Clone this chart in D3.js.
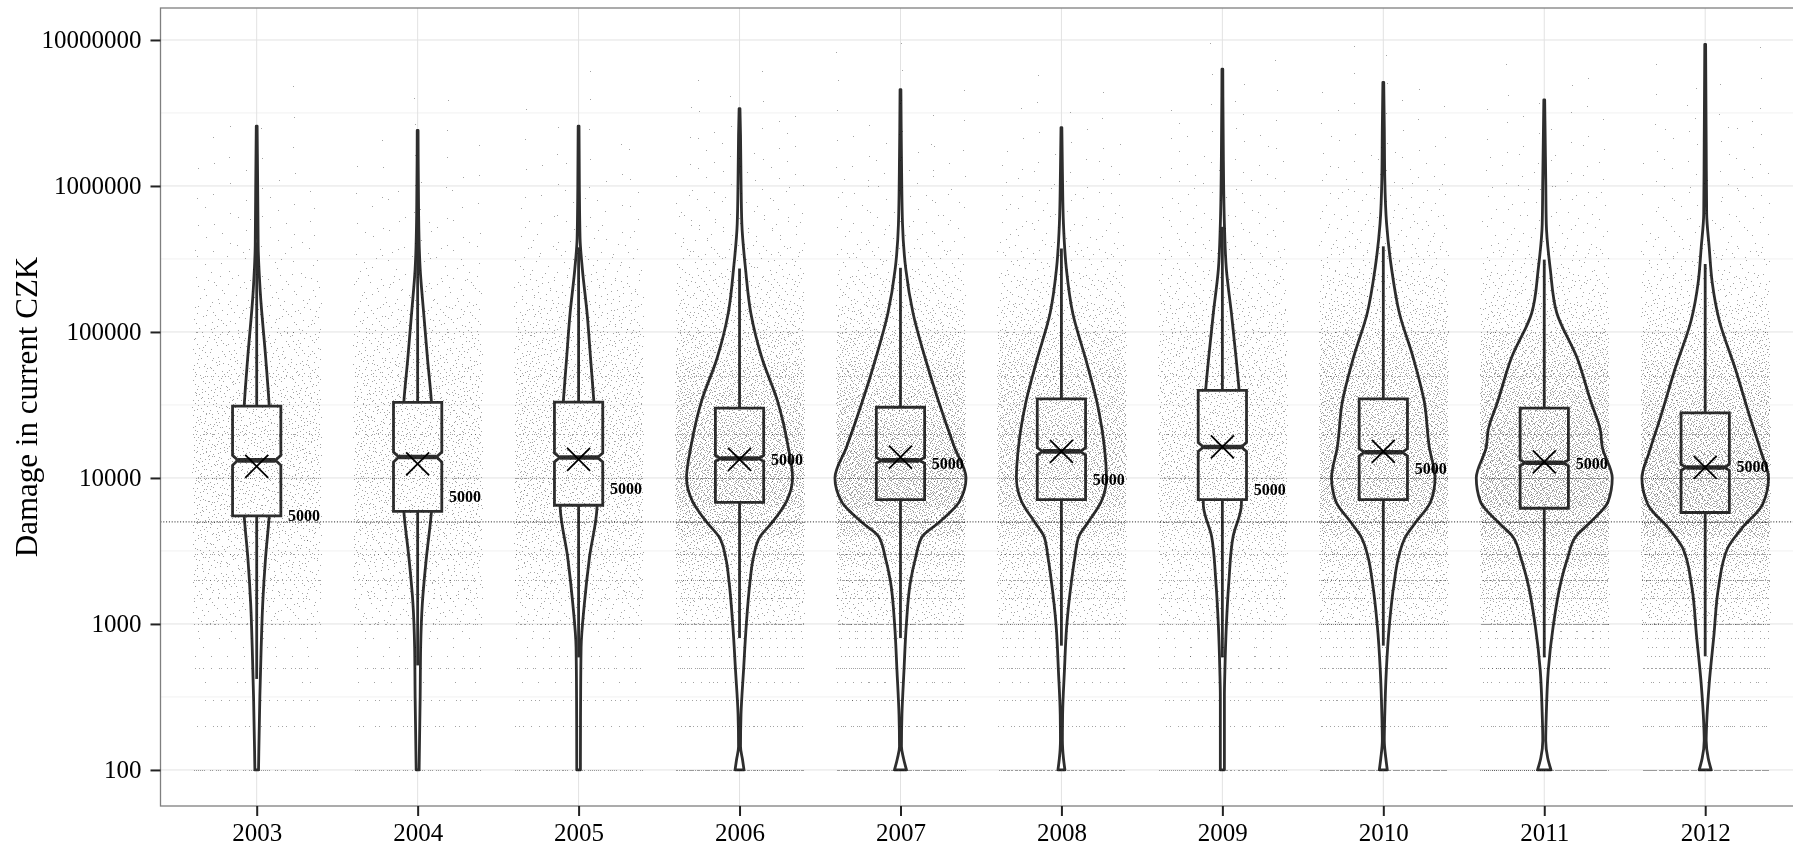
<!DOCTYPE html>
<html>
<head>
<meta charset="utf-8">
<script src="https://cdn.jsdelivr.net/npm/d3@7"></script>
<style>
body { margin: 0; background: #fff; }
#chart { position: relative; width: 1793px; height: 846px; overflow: hidden; }
#chart svg, #chart canvas { position: absolute; left: 0; top: 0; }
text { font-family: "Liberation Serif", "Times New Roman", serif; }
</style>
</head>
<body>
<div id="chart"></div>
<script>
// claims per year, damage in CZK
var years = [2003, 2004, 2005, 2006, 2007, 2008, 2009, 2010, 2011, 2012]
var q1 = [5500, 5900, 6500, 6800, 7100, 7100, 7100, 7100, 6200, 5800]
var medians = [13200, 13900, 13800, 13600, 13200, 15200, 16300, 15000, 12700, 11800]
var q3 = [31000, 32900, 33100, 30100, 30500, 34800, 39800, 34800, 30100, 27900]
var means = [12000, 12500, 13400, 13400, 13900, 15200, 16300, 15200, 12900, 11800]
var whiskerLow = [420, 520, 590, 800, 800, 710, 590, 710, 590, 600]
var whiskerHigh = [410000, 432000, 380000, 272000, 275000, 373000, 525000, 386000, 313000, 292000]
// notch half-height, in decades
var notchLog = [0.034, 0.034, 0.03, 0.02, 0.02, 0.025, 0.03, 0.025, 0.02, 0.02]
var labelAt = [5500, 7400, 8500, 13400, 12600, 9800, 8300, 11600, 12500, 12000]
var labelText = "5000"
var refLine = 5000

var yTicks = [100, 1000, 10000, 100000, 1000000, 10000000]
var yMinor = [Math.pow(10, 2.5), Math.pow(10, 3.5), Math.pow(10, 4.5), Math.pow(10, 5.5), Math.pow(10, 6.5)]

// violin outline: [log10 damage, relative density]
var violins = [
  [[2.0,.026],[2.5,.045],[2.84,.064],[3.14,.086],[3.45,.126],[3.74,.179],[4.1,.214],[4.49,.179],[4.82,.129],[5.28,.05],[5.59,.021],[6.0,.014],[6.41,.006]],
  [[2.0,.021],[2.5,.036],[2.84,.043],[3.14,.067],[3.45,.124],[3.77,.197],[4.14,.229],[4.52,.197],[4.82,.14],[5.13,.086],[5.43,.036],[5.8,.014],[6.38,.006]],
  [[2.0,.026],[2.5,.029],[2.84,.036],[3.14,.083],[3.45,.154],[3.81,.264],[4.14,.271],[4.52,.219],[4.82,.171],[5.13,.121],[5.43,.054],[5.64,.021],[6.0,.011],[6.41,.006]],
  [[2.0,.064],[2.07,.043],[2.16,.014],[2.38,.021],[2.68,.057],[2.99,.096],[3.29,.15],[3.45,.196],[3.6,.297],[3.69,.457],[3.84,.671],[4.0,.757],[4.21,.696],[4.52,.547],[4.82,.321],[5.13,.161],[5.43,.086],[5.74,.033],[6.05,.021],[6.35,.014],[6.53,.006]],
  [[2.0,.086],[2.08,.043],[2.16,.014],[2.38,.021],[2.68,.05],[2.99,.083],[3.29,.143],[3.45,.214],[3.6,.314],[3.69,.536],[3.84,.843],[4.0,.936],[4.21,.771],[4.52,.547],[4.82,.353],[5.13,.179],[5.43,.076],[5.74,.029],[6.2,.014],[6.66,.006]],
  [[2.0,.05],[2.08,.029],[2.2,.014],[2.38,.017],[2.68,.043],[2.99,.076],[3.29,.143],[3.45,.19],[3.6,.25],[3.69,.371],[3.84,.571],[4.0,.643],[4.21,.614],[4.52,.507],[4.82,.343],[5.13,.161],[5.43,.071],[5.74,.029],[6.1,.014],[6.4,.006]],
  [[2.0,.029],[2.5,.029],[2.68,.036],[2.99,.057],[3.29,.093],[3.6,.154],[3.81,.271],[4.2,.286],[4.6,.239],[4.82,.196],[5.13,.129],[5.43,.057],[5.74,.029],[6.2,.014],[6.8,.006]],
  [[2.0,.057],[2.08,.036],[2.2,.014],[2.38,.021],[2.68,.043],[2.99,.086],[3.29,.157],[3.45,.214],[3.6,.321],[3.69,.453],[3.84,.679],[4.0,.739],[4.21,.657],[4.52,.586],[4.82,.429],[5.13,.229],[5.43,.119],[5.74,.047],[6.05,.021],[6.4,.014],[6.71,.006]],
  [[2.0,.096],[2.08,.05],[2.2,.021],[2.38,.029],[2.68,.057],[2.99,.129],[3.29,.239],[3.45,.333],[3.6,.453],[3.69,.643],[3.84,.914],[4.0,.971],[4.21,.829],[4.33,.8],[4.52,.667],[4.82,.471],[5.13,.179],[5.43,.086],[5.74,.029],[6.05,.021],[6.3,.014],[6.59,.006]],
  [[2.0,.086],[2.08,.043],[2.2,.014],[2.32,.021],[2.59,.057],[2.92,.124],[3.25,.19],[3.52,.321],[3.65,.514],[3.82,.821],[4.0,.904],[4.18,.797],[4.41,.643],[4.75,.429],[5.08,.2],[5.34,.1],[5.58,.057],[5.81,.021],[6.3,.014],[6.97,.006]]
]

// jittered claims: amounts that sit on round values ...
var rowValues = [100, 200, 300, 400, 500, 600, 700, 800, 900, 1000, 1500, 2000, 3000, 5000, 10000, 20000, 50000, 100000]
var rowCounts = [
  [45,18,15,6,25,8,5,8,4,40,20,35,30,40,45,25,15,10],
  [45,18,16,6,26,8,6,8,4,42,22,38,32,42,48,26,16,10],
  [50,20,18,8,28,9,6,9,5,45,24,40,35,45,50,28,18,12],
  [90,35,32,18,58,24,18,22,16,85,45,75,65,90,100,55,35,20],
  [100,40,38,20,62,26,20,25,18,95,50,85,75,100,115,60,38,22],
  [80,30,28,14,50,20,15,18,12,75,40,65,55,75,85,48,30,18],
  [60,22,22,12,36,14,10,12,8,55,28,45,40,55,60,34,22,14],
  [100,40,38,18,62,26,20,24,17,95,50,85,75,95,110,60,38,22],
  [110,45,42,22,68,28,22,27,19,105,55,90,80,110,120,62,38,22],
  [105,42,40,20,65,27,21,26,18,100,52,88,78,105,118,60,38,22]
]
// ... and the rest, counted in bands 0.2 decades wide starting at 10^3
var bandStarts = [3.0,3.2,3.4,3.6,3.8,4.0,4.2,4.4,4.6,4.8,5.0,5.2,5.4,5.6,5.8,6.0,6.2,6.4,6.6,6.8]
var bandCounts = [
  [85,135,170,215,250,265,250,220,180,135,90,52,26,16,11,7,4,2,1,0],
  [75,125,180,230,260,280,270,250,200,155,105,60,30,17,11,7,4,2,1,0],
  [90,155,215,280,325,335,310,275,235,190,140,85,42,22,13,8,5,3,1,0],
  [170,250,380,650,900,900,790,670,500,330,200,130,70,38,25,17,11,6,3,0],
  [170,245,400,780,1100,1080,860,670,520,370,215,120,62,32,22,15,10,6,3,2],
  [165,235,330,540,770,770,710,620,515,375,205,115,62,32,21,14,8,4,2,0],
  [110,150,210,290,360,355,340,305,265,215,150,92,50,30,21,15,10,6,3,2],
  [190,265,400,660,900,860,770,710,590,460,280,170,80,48,32,20,12,7,4,2],
  [280,395,600,900,1180,1100,980,820,665,460,220,130,68,32,23,16,11,7,3,1],
  [230,350,500,920,1100,1040,870,715,550,380,220,122,64,32,21,15,10,7,4,2]
]

var width = 1793
var height = 846
var panel = {left: 160.5, top: 8, bottom: 806}

var x = d3.scalePoint().domain(years).range([256.7, 1705.2])
var step = x.step()
panel.right = x(years[years.length - 1]) + 0.6 * step

var y = d3.scaleLog()
  .domain([Math.pow(10, 1.753), Math.pow(10, 7.219)])
  .range([panel.bottom, panel.top])

var lineCol = "#2e2e2e"
var lw = 2.8
var maxHalf = 0.435 * step
var boxHalf = 0.15 * step
var notchInset = boxHalf * 0.22
var jitter = 0.4 * step

var chart = d3.select("#chart")

// ---- back layer: grid, violins, boxes
var back = chart.append("svg").attr("width", width).attr("height", height)

back.selectAll("line.minor")
  .data(yMinor)
  .enter().append("line")
  .attr("x1", panel.left).attr("x2", panel.right)
  .attr("y1", d => y(d)).attr("y2", d => y(d))
  .style("stroke", "#f4f4f4").style("stroke-width", 1.2)

back.selectAll("line.major")
  .data(yTicks)
  .enter().append("line")
  .attr("x1", panel.left).attr("x2", panel.right)
  .attr("y1", d => y(d)).attr("y2", d => y(d))
  .style("stroke", "#e2e2e2").style("stroke-width", 1)

back.selectAll("line.vgrid")
  .data(years)
  .enter().append("line")
  .attr("x1", d => x(d)).attr("x2", d => x(d))
  .attr("y1", panel.top).attr("y2", panel.bottom)
  .style("stroke", "#e2e2e2").style("stroke-width", 1)

years.forEach(function(yr, i) {
  var cx = x(yr)

  var area = d3.area()
    .curve(d3.curveMonotoneY)
    .y(d => y(Math.pow(10, d[0])))
    .x0(d => cx - d[1] * maxHalf)
    .x1(d => cx + d[1] * maxHalf)

  back.append("path")
    .attr("d", area(violins[i]))
    .style("fill", "#fff")
    .style("stroke", lineCol)
    .style("stroke-width", lw)
    .style("stroke-linejoin", "round")

  // whiskers
  back.append("line")
    .attr("x1", cx).attr("x2", cx)
    .attr("y1", y(q3[i])).attr("y2", y(whiskerHigh[i]))
    .style("stroke", lineCol).style("stroke-width", lw)
  back.append("line")
    .attr("x1", cx).attr("x2", cx)
    .attr("y1", y(q1[i])).attr("y2", y(whiskerLow[i]))
    .style("stroke", lineCol).style("stroke-width", lw)

  // notched box
  var l = cx - boxHalf, r = cx + boxHalf
  var lm = Math.log10(medians[i])
  var yTop = y(q3[i]), yBot = y(q1[i]), yMed = y(medians[i])
  var nTop = y(Math.pow(10, lm + notchLog[i]))
  var nBot = y(Math.pow(10, lm - notchLog[i]))
  var p = d3.path()
  p.moveTo(l, yTop)
  p.lineTo(r, yTop)
  p.lineTo(r, nTop)
  p.lineTo(r - notchInset, yMed)
  p.lineTo(r, nBot)
  p.lineTo(r, yBot)
  p.lineTo(l, yBot)
  p.lineTo(l, nBot)
  p.lineTo(l + notchInset, yMed)
  p.lineTo(l, nTop)
  p.closePath()
  back.append("path")
    .attr("d", p.toString())
    .style("fill", "#fff")
    .style("stroke", lineCol)
    .style("stroke-width", lw)

  back.append("line")
    .attr("x1", l + notchInset).attr("x2", r - notchInset)
    .attr("y1", yMed).attr("y2", yMed)
    .style("stroke", lineCol).style("stroke-width", 4.6)
})

// ---- middle layer: jittered claims
function halton(i, b) {
  var f = 1, r = 0
  while (i > 0) { f /= b; r += f * (i % b); i = Math.floor(i / b) }
  return r
}

var canvas = chart.append("canvas").attr("width", width).attr("height", height)
var ctx = canvas.node().getContext("2d")
ctx.fillStyle = "rgba(0,0,0,0.36)"

years.forEach(function(yr, i) {
  var cx = x(yr)
  rowValues.forEach(function(v, j) {
    var py = Math.round(y(v))
    for (var k = 0; k < rowCounts[i][j]; k++) {
      var px = cx + (halton(k + 7 + i * 3001 + j * 389, 2) * 2 - 1) * jitter
      ctx.fillRect(Math.round(px), py, 1, 1)
    }
  })
  bandStarts.forEach(function(b0, j) {
    for (var k = 0; k < bandCounts[i][j]; k++) {
      var idx = k + 1 + i * 5003 + j * 577
      var px = cx + (halton(idx, 2) * 2 - 1) * jitter
      var py = y(Math.pow(10, b0 + halton(idx, 3) * 0.2))
      ctx.fillRect(Math.round(px), Math.round(py), 1, 1)
    }
  })
})

// ---- front layer: reference line, means, labels, frame, axes
var svg = chart.append("svg").attr("width", width).attr("height", height)

svg.append("line")
  .attr("x1", panel.left).attr("x2", panel.right)
  .attr("y1", y(refLine)).attr("y2", y(refLine))
  .style("stroke", "#000").style("stroke-width", 0.9)
  .style("stroke-dasharray", "1,1.8")

var xs = 11.5
svg.selectAll("path.mean")
  .data(years)
  .enter().append("path")
  .attr("d", function(d, i) {
    var cx = x(d), cy = y(means[i])
    return "M" + (cx - xs) + "," + (cy - xs) + "L" + (cx + xs) + "," + (cy + xs) +
           "M" + (cx - xs) + "," + (cy + xs) + "L" + (cx + xs) + "," + (cy - xs)
  })
  .style("stroke", "#000").style("stroke-width", 1.8).style("fill", "none")

svg.selectAll("text.lab")
  .data(years)
  .enter().append("text")
  .attr("x", d => x(d) + 0.195 * step)
  .attr("y", (d, i) => y(labelAt[i]))
  .attr("dy", "0.34em")
  .style("font-size", "16px")
  .style("font-weight", "bold")
  .text(labelText)

svg.append("rect")
  .attr("x", panel.left).attr("y", panel.top)
  .attr("width", panel.right - panel.left)
  .attr("height", panel.bottom - panel.top)
  .style("fill", "none")
  .style("stroke", "#7f7f7f")
  .style("stroke-width", 1.3)

var yAxis = svg.append("g")
  .attr("transform", "translate(" + panel.left + ",0)")
  .call(d3.axisLeft(y).tickValues(yTicks).tickFormat(d3.format("d")).tickSize(10).tickPadding(9))
yAxis.select(".domain").remove()
yAxis.selectAll(".tick line").style("stroke", "#222").style("stroke-width", 2)
yAxis.selectAll(".tick text")
  .style("font-family", '"Liberation Serif", "Times New Roman", serif')
  .style("font-size", "25px")
  .style("fill", "#000")

var xAxis = svg.append("g")
  .attr("transform", "translate(0," + panel.bottom + ")")
  .call(d3.axisBottom(x).tickSize(10).tickPadding(7))
xAxis.select(".domain").remove()
xAxis.selectAll(".tick line").style("stroke", "#222").style("stroke-width", 2)
xAxis.selectAll(".tick text")
  .style("font-family", '"Liberation Serif", "Times New Roman", serif')
  .style("font-size", "25px")
  .style("fill", "#000")

svg.append("text")
  .attr("transform", "translate(37," + ((panel.top + panel.bottom) / 2) + ") rotate(-90)")
  .attr("text-anchor", "middle")
  .style("font-size", "31px")
  .text("Damage in current CZK")
</script>
</body>
</html>
